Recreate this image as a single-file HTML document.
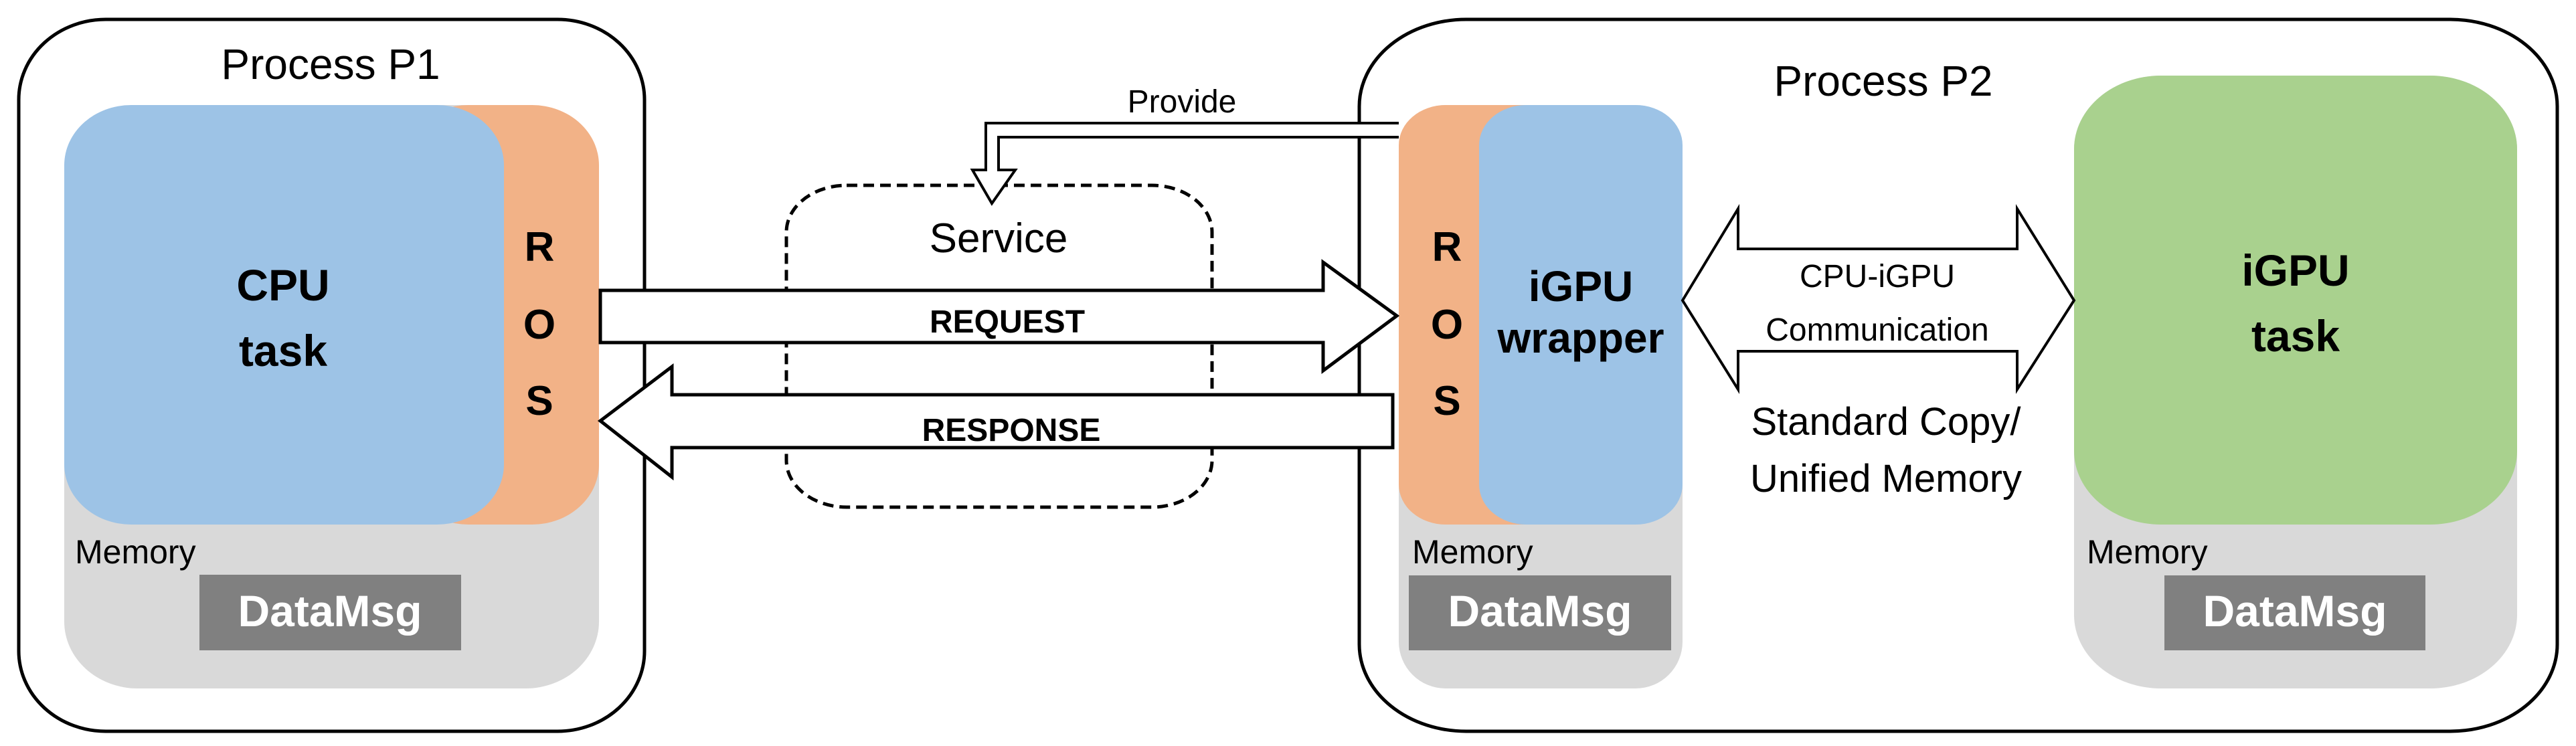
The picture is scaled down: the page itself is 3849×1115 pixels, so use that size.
<!DOCTYPE html>
<html><head><meta charset="utf-8"><style>html,body{margin:0;padding:0;background:#fff}svg{display:block}</style></head>
<body>
<svg width="3849" height="1115" viewBox="0 0 3849 1115" xmlns="http://www.w3.org/2000/svg" font-family="'Liberation Sans', sans-serif">
<!-- P1 -->
<rect x="28" y="29" width="935" height="1064" rx="130" ry="120" fill="#fff" stroke="#000" stroke-width="5"/>
<text x="494" y="118" font-size="64" text-anchor="middle">Process P1</text>
<rect x="96" y="157" width="799" height="872" rx="110" ry="100" fill="#d9d9d9"/>
<rect x="600" y="157" width="295" height="627" rx="100" ry="90" fill="#f2b287"/>
<rect x="96" y="157" width="657" height="627" rx="100" ry="90" fill="#9dc3e6"/>
<text x="423" y="449" font-size="66" font-weight="bold" text-anchor="middle">CPU</text>
<text x="423" y="547" font-size="66" font-weight="bold" text-anchor="middle">task</text>
<g font-size="62" font-weight="bold" text-anchor="middle">
<text x="806" y="390">R</text><text x="806" y="506">O</text><text x="806" y="620">S</text></g>
<text x="112" y="842" font-size="50">Memory</text>
<rect x="298" y="859" width="391" height="113" fill="#808080"/>
<text x="493" y="936" font-size="66" font-weight="bold" fill="#fff" text-anchor="middle">DataMsg</text>

<!-- P2 -->
<rect x="2031" y="29" width="1790" height="1064" rx="160" ry="130" fill="#fff" stroke="#000" stroke-width="5"/>
<text x="2814" y="143" font-size="64" text-anchor="middle">Process P2</text>
<rect x="2090" y="157" width="424" height="872" rx="70" ry="70" fill="#d9d9d9"/>
<rect x="2090" y="157" width="300" height="627" rx="70" ry="60" fill="#f2b287"/>
<rect x="2210" y="157" width="304" height="627" rx="70" ry="60" fill="#9dc3e6"/>
<g font-size="62" font-weight="bold" text-anchor="middle">
<text x="2162" y="390">R</text><text x="2162" y="506">O</text><text x="2162" y="620">S</text></g>
<text x="2362" y="450" font-size="64" font-weight="bold" text-anchor="middle">iGPU</text>
<text x="2362" y="527" font-size="64" font-weight="bold" text-anchor="middle">wrapper</text>
<text x="2110" y="842" font-size="50">Memory</text>
<rect x="2105" y="860" width="392" height="112" fill="#808080"/>
<text x="2301" y="936" font-size="66" font-weight="bold" fill="#fff" text-anchor="middle">DataMsg</text>

<rect x="3099" y="113" width="662" height="916" rx="130" ry="110" fill="#d9d9d9"/>
<rect x="3099" y="113" width="662" height="671" rx="130" ry="110" fill="#a9d18e"/>
<text x="3430" y="427" font-size="66" font-weight="bold" text-anchor="middle">iGPU</text>
<text x="3430" y="525" font-size="66" font-weight="bold" text-anchor="middle">task</text>
<text x="3118" y="842" font-size="50">Memory</text>
<rect x="3234" y="860" width="390" height="112" fill="#808080"/>
<text x="3429" y="936" font-size="66" font-weight="bold" fill="#fff" text-anchor="middle">DataMsg</text>

<!-- double arrow -->
<path d="M2514 449 L2597 312 L2597 372 L3014 372 L3014 312 L3099 449 L3014 582 L3014 525 L2597 525 L2597 582 Z" fill="#fff" stroke="#000" stroke-width="4"/>
<text x="2805" y="429" font-size="48" text-anchor="middle">CPU-iGPU</text>
<text x="2805" y="509" font-size="48" text-anchor="middle">Communication</text>
<text x="2818" y="650" font-size="58" text-anchor="middle">Standard Copy/</text>
<text x="2818" y="735" font-size="58" text-anchor="middle">Unified Memory</text>

<!-- service -->
<rect x="1175" y="277" width="636" height="481" rx="90" ry="70" fill="none" stroke="#000" stroke-width="5" stroke-dasharray="16,9"/>
<text x="1492" y="377" font-size="62" text-anchor="middle">Service</text>

<!-- provide -->
<path d="M2090 184 L1473 184 L1473 254 L1453 254 L1482 304 L1517 254 L1492 254 L1492 205 L2090 205" fill="#fff" stroke="#000" stroke-width="4"/>
<text x="1766" y="168" font-size="48" text-anchor="middle">Provide</text>

<!-- request -->
<path d="M897 434 L1977 434 L1977 392 L2087 472 L1977 554 L1977 512 L897 512 Z" fill="#fff" stroke="#000" stroke-width="5"/>
<text x="1505" y="497" font-size="48" font-weight="bold" text-anchor="middle">REQUEST</text>
<!-- response -->
<path d="M2081 590 L1004 590 L1004 548 L897 629 L1004 713 L1004 669 L2081 669 Z" fill="#fff" stroke="#000" stroke-width="5"/>
<text x="1511" y="659" font-size="48" font-weight="bold" text-anchor="middle">RESPONSE</text>
</svg>
</body></html>
